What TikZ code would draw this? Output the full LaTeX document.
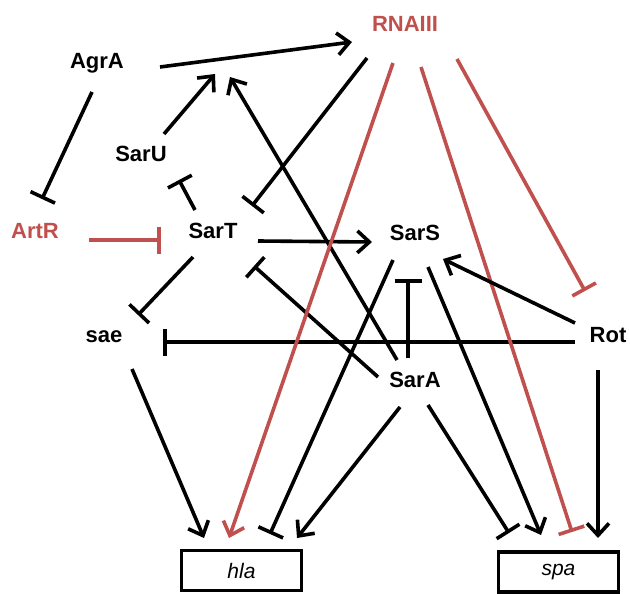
\documentclass[tikz,border=0pt]{standalone}
\usepackage{fontspec}
\setmainfont{Liberation Sans}
\usetikzlibrary{arrows.meta}
\definecolor{rnared}{RGB}{192,80,77}
\begin{document}
\begin{tikzpicture}[x=1pt,y=-1pt,
  lbl/.style={font=\fontsize{22}{24}\selectfont\bfseries, anchor=base, inner sep=0pt},
  gene/.style={draw, line width=3.6pt, minimum width=120pt, minimum height=40pt, inner sep=0pt, font=\fontsize{21}{24}\selectfont\itshape},
  act/.style={line width=3.6pt, -{Straight Barb[length=12pt,width=22pt]}},
  inh/.style={line width=3.6pt, -{Bar[width=27pt]}},
  redc/.style={draw=rnared, line width=3.6pt},
]
\path[use as bounding box] (0,0) rectangle (630,594);
% nodes
\node[lbl] (agrA) at (97,69) {AgrA};
\node[lbl, text=rnared] (rna) at (405,32) {RNAIII};
\node[lbl] (saru) at (141,161) {SarU};
\node[lbl, text=rnared] (artr) at (35,238) {ArtR};
\node[lbl] (sart) at (213,238) {SarT};
\node[lbl] (sars) at (415,240) {SarS};
\node[lbl] (sae) at (104,342) {sae};
\node[lbl] (rot) at (608,342) {Rot};
\node[lbl] (sara) at (415,387) {SarA};
\node[gene] (hla) at (241.5,570.5) {hla};
\node[gene] (spa) at (558.5,572) {spa};
% connector end points
\coordinate (agrA-o) at (160,67);
\coordinate (rna-i) at (352,42);
\coordinate (agrA-d) at (92,92);
\coordinate (artr-u) at (42,199);
\coordinate (artr-o) at (89,240);
\coordinate (sart-l) at (161,240);
\coordinate (saru-o) at (164,134);
\coordinate (edge-a) at (215,74);
\coordinate (sart-ul) at (195,210);
\coordinate (saru-b) at (179,180);
\coordinate (rna-l) at (367,58);
\coordinate (sart-ur) at (252,206);
\coordinate (sara-ul) at (397,360);
\coordinate (edge-b) at (230,77);
\coordinate (sart-r) at (258,241);
\coordinate (sars-l) at (372,242);
\coordinate (sara-l) at (378,377);
\coordinate (sart-lr) at (254,266);
\coordinate (sart-ll) at (193,257);
\coordinate (sae-u) at (138,315);
\coordinate (rot-l) at (575,342);
\coordinate (sae-r) at (163,342);
\coordinate (sae-d) at (132,369);
\coordinate (hla-1) at (204,538);
\coordinate (rna-d1) at (393,63);
\coordinate (hla-2) at (229,538);
\coordinate (sars-ll) at (393,260);
\coordinate (hla-3) at (270,534);
\coordinate (sara-dl) at (400,407);
\coordinate (hla-4) at (297,538);
\coordinate (sara-u) at (408,358);
\coordinate (sars-d) at (408,279);
\coordinate (sars-lr) at (428,267);
\coordinate (spa-1) at (541,535);
\coordinate (sara-dr) at (428,405);
\coordinate (spa-0) at (509,533);
\coordinate (rna-d2) at (421,67);
\coordinate (spa-2) at (572,532);
\coordinate (rna-r) at (457,59);
\coordinate (rot-u) at (585,291);
\coordinate (rot-ul) at (575,323);
\coordinate (sars-r) at (443,259);
\coordinate (rot-d) at (598,370);
\coordinate (spa-3) at (598,538);
% connectors
\draw[act] (agrA-o) -- (rna-i);
\draw[inh] (agrA-d) -- (artr-u);
\draw[inh, redc] (artr-o) -- (sart-l);
\draw[act] (saru-o) -- (edge-a);
\draw[inh] (sart-ul) -- (saru-b);
\draw[inh] (rna-l) -- (sart-ur);
\draw[act] (sara-ul) -- (edge-b);
\draw[act] (sart-r) -- (sars-l);
\draw[inh] (sara-l) -- (sart-lr);
\draw[inh] (sart-ll) -- (sae-u);
\draw[inh] (rot-l) -- (sae-r);
\draw[act] (sae-d) -- (hla-1);
\draw[act, redc] (rna-d1) -- (hla-2);
\draw[inh] (sars-ll) -- (hla-3);
\draw[act] (sara-dl) -- (hla-4);
\draw[inh] (sara-u) -- (sars-d);
\draw[act] (sars-lr) -- (spa-1);
\draw[inh] (sara-dr) -- (spa-0);
\draw[inh, redc] (rna-d2) -- (spa-2);
\draw[inh, redc] (rna-r) -- (rot-u);
\draw[act] (rot-ul) -- (sars-r);
\draw[act] (rot-d) -- (spa-3);
\end{tikzpicture}
\end{document}
